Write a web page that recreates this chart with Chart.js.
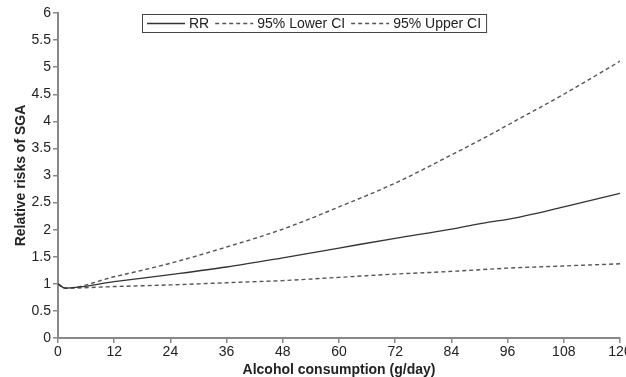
<!DOCTYPE html>
<html>
<head>
<meta charset="utf-8">
<script src="https://cdn.jsdelivr.net/npm/chart.js@4/dist/chart.umd.min.js"></script>
<style>
  html, body { margin: 0; padding: 0; background: #fff; overflow: hidden; }
  #wrap { position: relative; width: 640px; height: 377px; }
</style>
</head>
<body>
<div id="wrap"><canvas id="chart" width="640" height="377"></canvas></div>
<script>
// alcohol consumption (g/day)
const doses = [0, 1.5, 12, 24, 36, 48, 60, 72, 84, 92, 96, 108, 120];
const rr = [1.0, 0.92, 1.04, 1.17, 1.31, 1.48, 1.66, 1.84, 2.01, 2.14, 2.19, 2.42, 2.67];
const lowerCI = [1.0, 0.92, 0.95, 0.98, 1.02, 1.06, 1.12, 1.18, 1.23, 1.27, 1.29, 1.33, 1.37];
const upperCI = [1.0, 0.92, 1.13, 1.38, 1.68, 2.01, 2.42, 2.86, 3.38, 3.74, 3.93, 4.5, 5.11];
const xTicks = [0, 12, 24, 36, 48, 60, 72, 84, 96, 108, 120];

const toPoints = ys => doses.map((d, i) => ({ x: d, y: ys[i] }));

const font = 'Liberation Sans, Arial, sans-serif';

// legend drawn as a boxed row inside the plot, like the original
const boxLegend = {
    id: 'boxLegend',
    afterDraw(chart) {
        const ctx = chart.ctx;
        const left = 142, top = 14, h = 18, sample = 38;
        ctx.save();
        ctx.font = '14px ' + font;
        let x = left + 5;
        const y = top + h / 2 + 0.5;
        const items = chart.data.datasets.map(ds => {
            const w = ctx.measureText(ds.label).width;
            return { ds, w };
        });
        let total = 5;
        items.forEach((it, i) => { total += sample + 4 + it.w + (i < items.length - 1 ? 6 : 5); });
        ctx.fillStyle = '#fff';
        ctx.fillRect(left, top, total, h);
        ctx.strokeStyle = '#444';
        ctx.lineWidth = 1;
        ctx.strokeRect(left + 0.5, top + 0.5, total, h);
        items.forEach(it => {
            ctx.beginPath();
            ctx.setLineDash(it.ds.borderDash || []);
            ctx.strokeStyle = it.ds.borderColor;
            ctx.lineWidth = it.ds.borderWidth;
            ctx.moveTo(x, y);
            ctx.lineTo(x + sample, y);
            ctx.stroke();
            ctx.setLineDash([]);
            x += sample + 4;
            ctx.fillStyle = '#222';
            ctx.textBaseline = 'middle';
            ctx.fillText(it.ds.label, x, y + 1);
            x += it.w + 6;
        });
        ctx.restore();
    }
};

new Chart(document.getElementById('chart'), {
    type: 'line',
    data: {
        datasets: [
            { label: 'RR', data: toPoints(rr), borderColor: '#333', borderWidth: 1.4, cubicInterpolationMode: 'monotone' },
            { label: '95% Lower CI', data: toPoints(lowerCI), borderColor: '#555', borderWidth: 1.4, borderDash: [4, 3], cubicInterpolationMode: 'monotone' },
            { label: '95% Upper CI', data: toPoints(upperCI), borderColor: '#555', borderWidth: 1.4, borderDash: [4, 3], cubicInterpolationMode: 'monotone' }
        ]
    },
    options: {
        responsive: false,
        animation: false,
        layout: { padding: { top: 13, right: 20, left: 0, bottom: 0 } },
        elements: { point: { radius: 0 } },
        plugins: {
            legend: { display: false },
            tooltip: { enabled: false }
        },
        scales: {
            x: {
                type: 'linear',
                min: 0,
                max: 120,
                afterBuildTicks: scale => { scale.ticks = xTicks.map(v => ({ value: v })); },
                afterFit: scale => { scale.height = 39; },
                ticks: { color: '#222', font: { family: font, size: 14 }, padding: 1, maxRotation: 0 },
                grid: { drawOnChartArea: false, drawTicks: true, tickLength: 5, color: '#888', lineWidth: 1.5 },
                border: { display: true, color: '#888', width: 2 },
                title: {
                    display: true,
                    text: 'Alcohol consumption (g/day)',
                    color: '#222',
                    font: { family: font, size: 14, weight: 'bold' },
                    padding: { top: 0, bottom: -2 }
                }
            },
            y: {
                min: 0,
                max: 6,
                afterFit: scale => { scale.width = 58; },
                ticks: {
                    stepSize: 0.5,
                    color: '#222',
                    font: { family: font, size: 14 },
                    padding: 2,
                    callback: v => String(v)
                },
                grid: { drawOnChartArea: false, drawTicks: true, tickLength: 5, color: '#888', lineWidth: 1.5 },
                border: { display: true, color: '#888', width: 2 },
                title: {
                    display: true,
                    text: 'Relative risks of SGA',
                    color: '#222',
                    font: { family: font, size: 14, weight: 'bold' },
                    padding: { top: 13, bottom: 0 }
                }
            }
        }
    },
    plugins: [boxLegend]
});
</script>
</body>
</html>
